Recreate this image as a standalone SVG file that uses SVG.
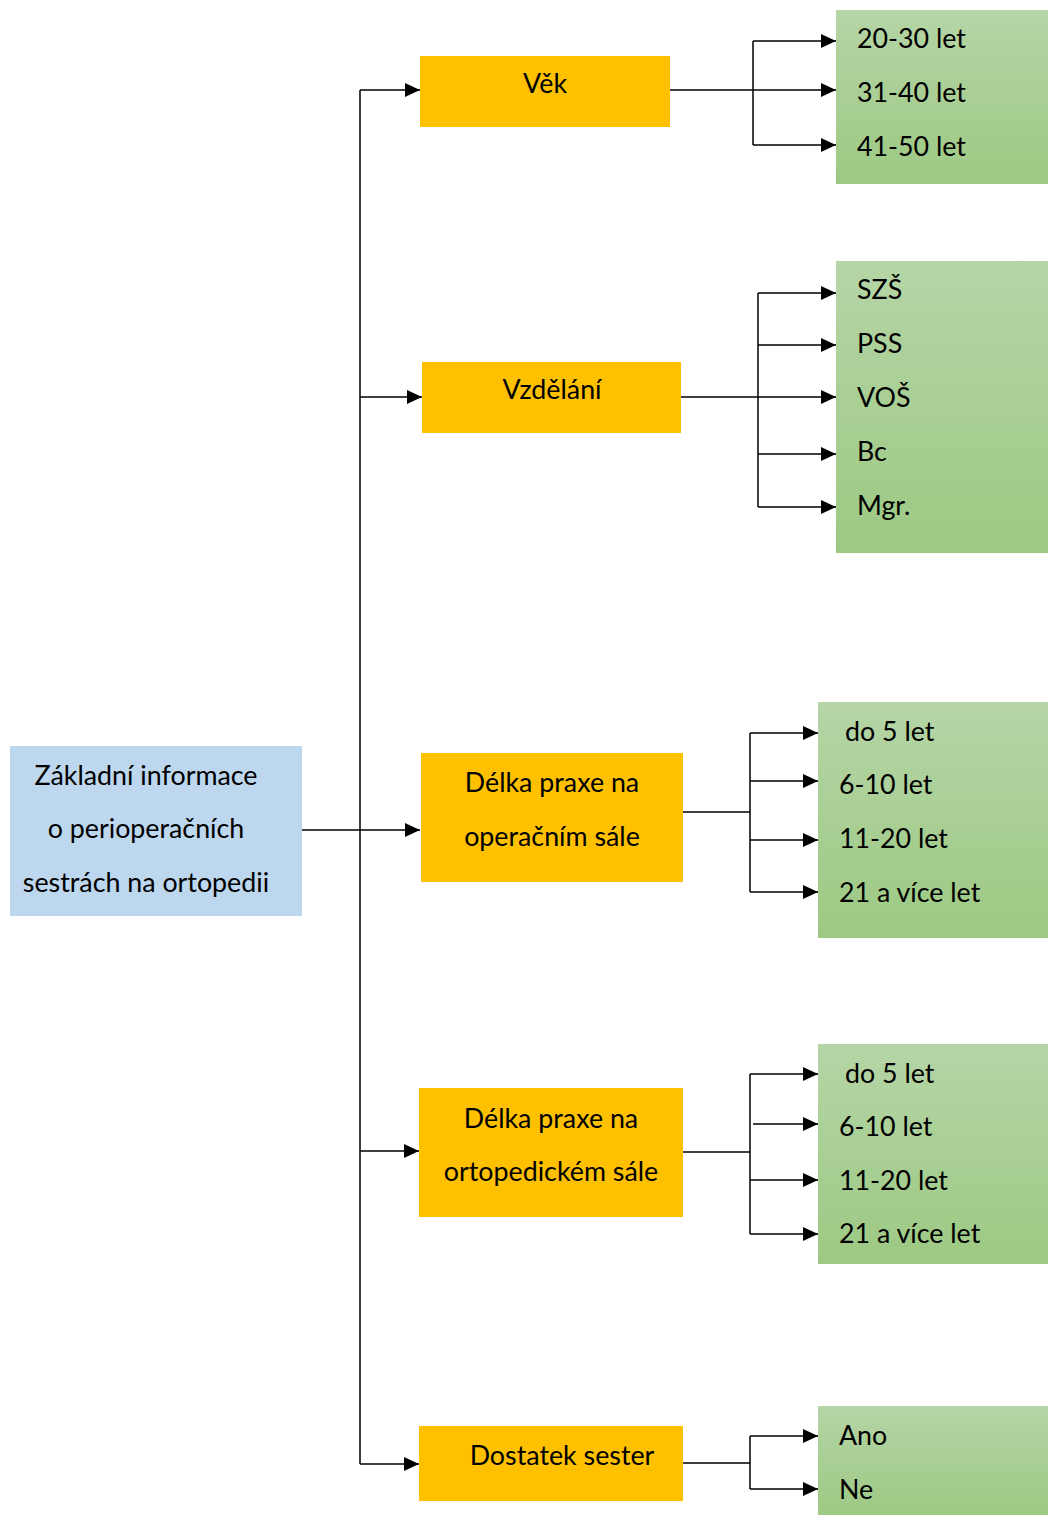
<svg xmlns="http://www.w3.org/2000/svg" width="1048" height="1515" viewBox="0 0 1048 1515">
<style>
text{font-family:Lato,"Open Sans","Liberation Sans",sans-serif;font-size:26.8px;fill:#000}
.c{text-anchor:middle}
.root{fill:#BDD7EE}
.cat{fill:#FFC000}
.opt{fill:url(#g)}
.ln{fill:none;stroke:#000;stroke-width:1.5}
.ar{fill:none;stroke:#000;stroke-width:1.5;marker-end:url(#a)}
</style>
<defs>
<linearGradient id="g" x1="0" y1="0" x2="0" y2="1">
<stop offset="0" stop-color="#B5D5A6"/>
<stop offset="1" stop-color="#9DC983"/>
</linearGradient>
<marker id="a" viewBox="0 0 15 14" refX="15" refY="7" markerWidth="15" markerHeight="14" markerUnits="userSpaceOnUse" orient="auto">
<path d="M0,0 L15,7 L0,14 z" fill="#000"/>
</marker>
</defs>
<g id="root">
<rect class="root" x="10" y="746" width="292" height="170"/>
<text class="c" x="146" y="785">Základní informace</text>
<text class="c" x="146" y="838">o perioperačních</text>
<text class="c" x="146" y="892">sestrách na ortopedii</text>
</g>
<g id="vek">
<rect class="cat" x="420" y="56" width="250" height="71"/>
<text class="c" x="545" y="93">Věk</text>
</g>
<g id="vzdelani">
<rect class="cat" x="422" y="362" width="259" height="71"/>
<text class="c" x="552" y="399">Vzdělání</text>
</g>
<g id="praxe-op">
<rect class="cat" x="421" y="753" width="262" height="129"/>
<text class="c" x="552" y="792">Délka praxe na</text>
<text class="c" x="552" y="846">operačním sále</text>
</g>
<g id="praxe-orto">
<rect class="cat" x="419" y="1088" width="264" height="129"/>
<text class="c" x="551" y="1128">Délka praxe na</text>
<text class="c" x="551" y="1181">ortopedickém sále</text>
</g>
<g id="dostatek">
<rect class="cat" x="419" y="1426" width="264" height="75"/>
<text class="c" x="562" y="1465">Dostatek sester</text>
</g>
<g id="opt-vek">
<rect class="opt" x="836" y="10" width="212" height="174"/>
<text x="857" y="48">20-30 let</text>
<text x="857" y="102">31-40 let</text>
<text x="857" y="156">41-50 let</text>
</g>
<g id="opt-vzdelani">
<rect class="opt" x="836" y="261" width="212" height="292"/>
<text x="857" y="299">SZŠ</text>
<text x="857" y="353">PSS</text>
<text x="857" y="407">VOŠ</text>
<text x="857" y="461">Bc</text>
<text x="857" y="515">Mgr.</text>
</g>
<g id="opt-praxe-op">
<rect class="opt" x="818" y="702" width="230" height="236"/>
<text x="845" y="741">do 5 let</text>
<text x="839" y="794">6-10 let</text>
<text x="839" y="848">11-20 let</text>
<text x="839" y="902">21 a více let</text>
</g>
<g id="opt-praxe-orto">
<rect class="opt" x="818" y="1044" width="230" height="220"/>
<text x="845" y="1083">do 5 let</text>
<text x="839" y="1136">6-10 let</text>
<text x="839" y="1190">11-20 let</text>
<text x="839" y="1243">21 a více let</text>
</g>
<g id="opt-dostatek">
<rect class="opt" x="818" y="1406" width="230" height="109"/>
<text x="839" y="1445">Ano</text>
<text x="839" y="1499">Ne</text>
</g>
<g id="connectors">
<path class="ln" d="M360,90 V1464"/>
<path class="ar" d="M302,830 H420"/>
<path class="ar" d="M360,90 H420"/>
<path class="ar" d="M360,397 H422"/>
<path class="ar" d="M360,1151 H419"/>
<path class="ar" d="M360,1464 H419"/>
<path class="ln" d="M670,90 H753 M753,41 V145"/>
<path class="ar" d="M753,41 H836"/>
<path class="ar" d="M753,90 H836"/>
<path class="ar" d="M753,145 H836"/>
<path class="ln" d="M681,397 H758 M758,293 V507"/>
<path class="ar" d="M758,293 H836"/>
<path class="ar" d="M758,345 H836"/>
<path class="ar" d="M758,397 H836"/>
<path class="ar" d="M758,454 H836"/>
<path class="ar" d="M758,507 H836"/>
<path class="ln" d="M683,812 H750 M750,733 V892"/>
<path class="ar" d="M750,733 H818"/>
<path class="ar" d="M750,781 H818"/>
<path class="ar" d="M750,840 H818"/>
<path class="ar" d="M750,892 H818"/>
<path class="ln" d="M683,1152 H750 M750,1074 V1234"/>
<path class="ar" d="M750,1074 H818"/>
<path class="ar" d="M753,1124 H818"/>
<path class="ar" d="M750,1180 H818"/>
<path class="ar" d="M750,1234 H818"/>
<path class="ln" d="M683,1463 H750 M750,1436 V1489"/>
<path class="ar" d="M750,1436 H818"/>
<path class="ar" d="M750,1489 H818"/>
</g>
</svg>
